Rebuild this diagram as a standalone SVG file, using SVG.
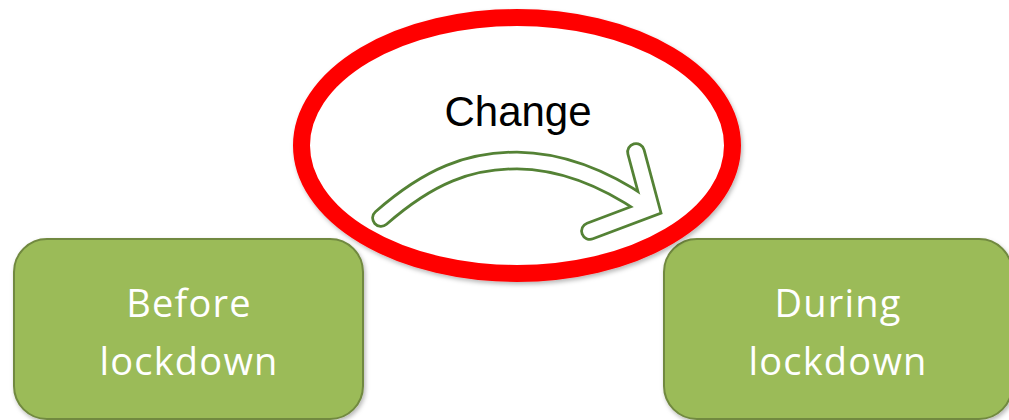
<svg xmlns="http://www.w3.org/2000/svg" width="1009" height="420" viewBox="0 0 1009 420">
  <defs>
    <filter id="shadow" x="-10%" y="-10%" width="120%" height="130%">
      <feDropShadow dx="1.5" dy="2.5" stdDeviation="2" flood-color="#000" flood-opacity="0.28"/>
    </filter>
  </defs>
  <style>
    .box { fill: #9BBB59; stroke: #71893F; stroke-width: 2; }
    .boxtext { font-family: "Open Sans", "Noto Sans", sans-serif; font-size: 38px; fill: #FFFFFF; text-anchor: middle; letter-spacing: 1.2px; }
    .ring { fill: #FFFFFF; stroke: #FF0000; stroke-width: 17; }
    .ringtext { font-family: "Liberation Sans", Arial, sans-serif; font-size: 42px; fill: #000000; text-anchor: middle; }
    .arrow-out { fill: none; stroke: #548235; stroke-width: 19.5; stroke-linecap: round; stroke-linejoin: miter; }
    .arrow-in { fill: none; stroke: #FFFFFF; stroke-width: 14; stroke-linecap: round; stroke-linejoin: miter; }
  </style>
  <rect width="1009" height="420" fill="#FFFFFF"/>

  <g id="before-lockdown">
    <rect class="box" x="14" y="239" width="349" height="180" rx="33" ry="33" filter="url(#shadow)"/>
    <text class="boxtext" x="189" y="317">Before</text>
    <text class="boxtext" x="189" y="375">lockdown</text>
  </g>

  <g id="during-lockdown">
    <rect class="box" x="664" y="239" width="348" height="180" rx="33" ry="33" filter="url(#shadow)"/>
    <text class="boxtext" x="838" y="317">During</text>
    <text class="boxtext" x="838" y="375">lockdown</text>
  </g>

  <g id="change">
    <ellipse class="ring" cx="517" cy="145.5" rx="215.5" ry="128" filter="url(#shadow)"/>
    <text class="ringtext" x="518" y="126">Change</text>
  </g>

  <g id="connectors">
    <path class="arrow-out" d="M381,218 C430,175 470,160.5 517,160.5 C565,161 610,182 645,206"/>
    <path class="arrow-out" d="M636,152 L651,208 L590,231"/>
    <path class="arrow-in" d="M381,218 C430,175 470,160.5 517,160.5 C565,161 610,182 645,206"/>
    <path class="arrow-in" d="M636,152 L651,208 L590,231"/>
  </g>
</svg>
